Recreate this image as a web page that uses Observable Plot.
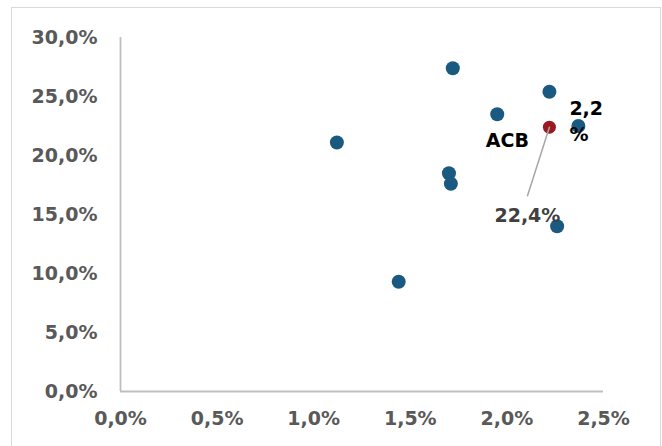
<!DOCTYPE html>
<html>
<head>
<meta charset="utf-8">
<script src="https://cdn.jsdelivr.net/npm/d3@7"></script>
<script src="https://cdn.jsdelivr.net/npm/@observablehq/plot@0.6"></script>
<style>
  html, body { margin: 0; padding: 0; background: #fff; }
  #frame {
    position: absolute; left: 11px; top: 7px; width: 650px; height: 470px;
    border: 1.5px solid #d9d9d9; box-sizing: border-box;
  }
  #chart { position: absolute; left: 0; top: 0; }
</style>
</head>
<body>
<div id="frame"></div>
<div id="chart"></div>
<script>
// Peer banks: x = first series (%), y = second series (%)
const peerX = [1.72, 2.22, 1.95, 2.37, 1.12, 1.70, 1.71, 2.26, 1.44];
const peerY = [27.4, 25.4, 23.5, 22.5, 21.1, 18.5, 17.6, 14.0, 9.3];

// Highlighted bank
const focusName = "ACB";
const focusX = 2.22;
const focusY = 22.4;

// Axis ticks (%)
const xTicks = [0, 0.5, 1, 1.5, 2, 2.5];
const yTicks = [0, 5, 10, 15, 20, 25, 30];

const fmt = v => v.toFixed(1).replace(".", ",");
const pct = v => fmt(v) + "%";

const peers = peerX.map((x, i) => ({x, y: peerY[i]}));
const focus = [{name: focusName, x: focusX, y: focusY}];

const font = "'DejaVu Sans', Verdana, sans-serif";

// Straight leader line drawn from the dot outward
const leader = {
  draw(context, l) {
    context.moveTo(0, 0);
    context.lineTo(0, -l);
  }
};

const chart = Plot.plot({
  width: 662,
  height: 446,
  marginLeft: 120,
  marginRight: 59,
  marginTop: 37,
  marginBottom: 55,
  style: {fontFamily: font, fontSize: "19px", fontWeight: "bold", background: "transparent", overflow: "visible"},
  x: {domain: [0, 2.5]},
  y: {domain: [0, 30]},
  marks: [
    Plot.axisX({ticks: xTicks, tickFormat: pct, tickSize: 0, tickPadding: 20, label: null, fill: "#595959", fontSize: 19, fontWeight: "bold"}),
    Plot.axisY({ticks: yTicks, tickFormat: pct, tickSize: 0, tickPadding: 23, label: null, fill: "#595959", fontSize: 19, fontWeight: "bold"}),
    Plot.ruleY([0], {stroke: "#bfbfbf", strokeWidth: 1.8}),
    Plot.ruleX([0], {stroke: "#bfbfbf", strokeWidth: 1.8}),
    Plot.dot(peers, {x: "x", y: "y", r: 7, fill: "#1b5a80"}),
    Plot.dot(focus, {x: "x", y: "y", r: 6.5, fill: "#9a1a20"}),
    Plot.vector(focus, {x: "x", y: "y", anchor: "start", rotate: 197.7, length: 72, shape: leader, stroke: "#a6a6a6", strokeWidth: 1.5}),
    Plot.text(focus, {x: "x", y: "y", text: "name", dx: -42, dy: 14, fill: "#000", fontSize: 19, fontWeight: "bold"}),
    Plot.text(focus, {x: "x", y: "y", text: d => fmt(d.x) + "\n%", textAnchor: "start", lineHeight: 1.35, dx: 20, dy: -7.5, fill: "#000", fontSize: 19, fontWeight: "bold"}),
    Plot.text(focus, {x: "x", y: "y", text: d => pct(d.y), dx: -22, dy: 89, fill: "#404040", fontSize: 19, fontWeight: "bold"})
  ]
});

document.getElementById("chart").appendChild(chart);
</script>
</body>
</html>
